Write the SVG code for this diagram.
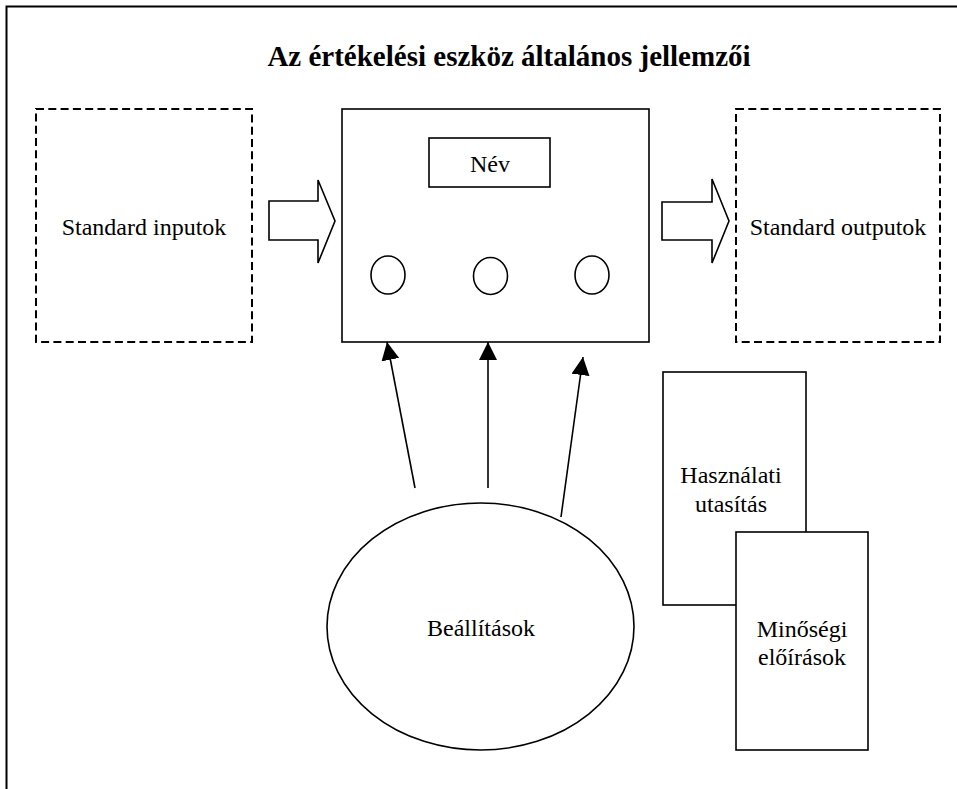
<svg xmlns="http://www.w3.org/2000/svg" width="957" height="789" viewBox="0 0 957 789">
<defs>
<style>
text{font-family:'Liberation Serif','Times New Roman',Tinos,'DejaVu Serif',serif;font-size:24px;fill:#000;text-anchor:middle}
.title{font-weight:bold;font-size:29px}
.box{fill:#fff;stroke:#000;stroke-width:1.6}
.dash{fill:none;stroke:#000;stroke-width:2;stroke-dasharray:8 4.3}
.line{stroke:#000;stroke-width:1.6;fill:none}
</style>
<marker id="ah" viewBox="0 0 10 10" refX="10" refY="5" markerWidth="18" markerHeight="18" markerUnits="userSpaceOnUse" orient="auto">
<path d="M0,0 L10,5 L0,10 Z" fill="#000"/>
</marker>
</defs>
<rect width="957" height="789" fill="#fff"/>
<path d="M6.5,789 V6.5 H957" fill="none" stroke="#000" stroke-width="2"/>
<text class="title" x="509" y="66" font-family="Liberation Serif, serif">Az értékelési eszköz általános jellemzői</text>

<g id="inputs">
<rect class="dash" x="36" y="109" width="216" height="233"/>
<text x="144" y="235" font-family="Liberation Serif, serif">Standard inputok</text>
</g>

<g id="tool">
<rect class="box" x="342" y="109" width="307" height="233"/>
<g id="nev">
<rect class="box" x="429" y="138" width="121" height="49"/>
<text x="490" y="172" font-family="Liberation Serif, serif">Név</text>
</g>
<ellipse class="box" cx="388" cy="275" rx="17" ry="19"/>
<ellipse class="box" cx="490.5" cy="276" rx="17" ry="18.5"/>
<ellipse class="box" cx="592" cy="275" rx="17" ry="19"/>
</g>

<g id="outputs">
<rect class="dash" x="736" y="109" width="204" height="233"/>
<text x="838" y="235" font-family="Liberation Serif, serif">Standard outputok</text>
</g>

<g id="beallitasok">
<ellipse class="box" cx="480.5" cy="626.5" rx="153.5" ry="123.5"/>
<text x="481" y="636" font-family="Liberation Serif, serif">Beállítások</text>
</g>

<g id="hasznalati">
<rect class="box" x="663" y="372" width="143" height="233"/>
<text x="731" y="483" font-family="Liberation Serif, serif">Használati</text>
<text x="731" y="512" font-family="Liberation Serif, serif">utasítás</text>
</g>

<g id="minosegi">
<rect class="box" x="736" y="532" width="132" height="218"/>
<text x="802" y="637" font-family="Liberation Serif, serif">Minőségi</text>
<text x="802" y="665" font-family="Liberation Serif, serif">előírások</text>
</g>

<g id="connectors">
<path class="box" d="M269,201 H318 V180 L335,221 L318,263 V240 H269 Z"/>
<path class="box" d="M662,202 H712 V179 L729,221 L712,263 V240 H662 Z"/>
<line class="line" x1="415" y1="488" x2="387" y2="342" marker-end="url(#ah)"/>
<line class="line" x1="488" y1="488" x2="488" y2="342" marker-end="url(#ah)"/>
<line class="line" x1="561" y1="517" x2="583" y2="357" marker-end="url(#ah)"/>
</g>
</svg>
